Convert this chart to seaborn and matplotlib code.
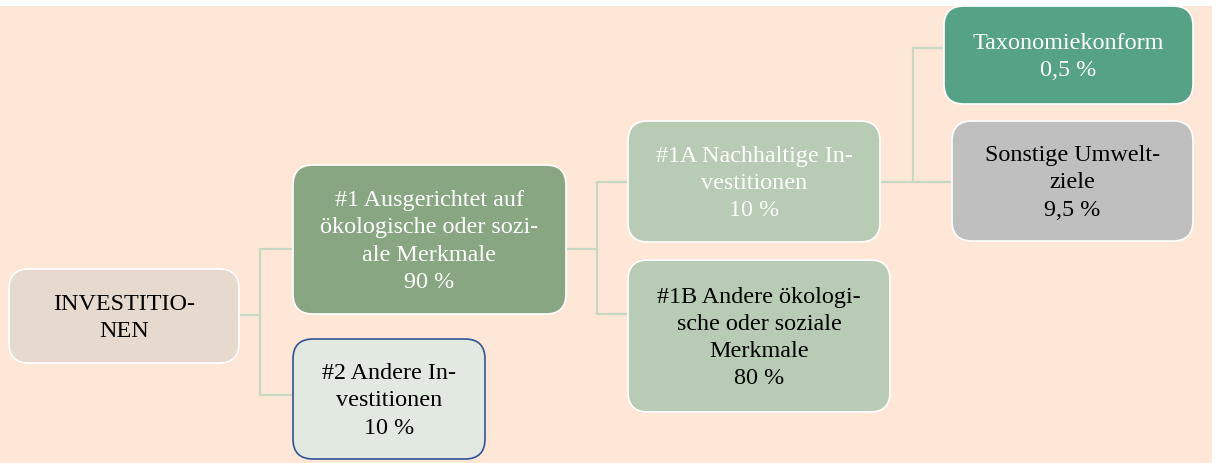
import matplotlib
matplotlib.use("Agg")
import matplotlib.pyplot as plt
from matplotlib.patches import FancyBboxPatch, Rectangle
import seaborn as sns

# ---------------------- Data ---------------------- #

node_ids = ["root", "n1", "n2", "n1a", "n1b", "tax", "other"]
node_titles = [
    "INVESTITIO-\nNEN",
    "#1 Ausgerichtet auf\nökologische oder sozi-\nale Merkmale",
    "#2 Andere In-\nvestitionen",
    "#1A Nachhaltige In-\nvestitionen",
    "#1B Andere ökologi-\nsche oder soziale\nMerkmale",
    "Taxonomiekonform",
    "Sonstige Umwelt-\nziele",
]
node_shares = [None, "90 %", "10 %", "10 %", "80 %", "0,5 %", "9,5 %"]
edges = [("root", "n1"), ("root", "n2"), ("n1", "n1a"), ("n1", "n1b"),
         ("n1a", "tax"), ("n1a", "other")]

# ---------------------- Layout (pixels) ---------------------- #

boxes = {
    "root": (9, 270, 239, 364),
    "n1": (293, 166, 566, 315),
    "n2": (293, 340, 485, 460),
    "n1a": (628, 122, 880, 243),
    "n1b": (628, 261, 890, 413),
    "tax": (944, 7, 1193, 105),
    "other": (952, 122, 1193, 242),
}
styles = {
    "root": ("#E6D9CD", "white", "black"),
    "n1": ("#88A682", "white", "white"),
    "n2": ("#E1E9E0", "#2F5597", "black"),
    "n1a": ("#B8CBB4", "white", "white"),
    "n1b": ("#B8CBB4", "white", "black"),
    "tax": ("#56A286", "white", "white"),
    "other": ("#BFBFBF", "white", "black"),
}
# connector anchor y on the parent and x of the vertical bus
bus = {"root": (316, 260), "n1": (250, 597), "n1a": (183, 913)}
child_y = {"n1": 250, "n2": 396, "n1a": 183, "n1b": 315, "tax": 49, "other": 183}

line_color = "#C9D8C3"
bg_color = "#FEE7D7"

# ---------------------- Drawing ---------------------- #

sns.set_theme(style="white")
plt.rcParams["font.family"] = ["Liberation Serif", "DejaVu Serif"]

fig = plt.figure(figsize=(12.16, 4.64), dpi=100, facecolor=bg_color)
ax = fig.add_axes([0, 0, 1, 1])
ax.set_xlim(0, 1216)
ax.set_ylim(464, 0)
ax.axis("off")

# white margin at the top and right edge
ax.add_patch(Rectangle((-5, -5), 1230, 12, facecolor="white", edgecolor="none",
                       zorder=0, clip_on=False))
ax.add_patch(Rectangle((1212, -5), 20, 480, facecolor="white", edgecolor="none",
                       zorder=0, clip_on=False))

# connectors
for parent in bus:
    py, bx = bus[parent]
    x1 = boxes[parent][2]
    kids = [c for p, c in edges if p == parent]
    ys = [child_y[c] for c in kids]
    ax.plot([x1 - 10, bx], [py, py], color=line_color, lw=1.6, zorder=1)
    ax.plot([bx, bx], [min(ys + [py]), max(ys + [py])], color=line_color, lw=1.6, zorder=1)
    for c, y in zip(kids, ys):
        ax.plot([bx, boxes[c][0] + 2], [y, y], color=line_color, lw=1.6, zorder=1)

# nodes
for nid, title, share in zip(node_ids, node_titles, node_shares):
    x0, y0, x1, y1 = boxes[nid]
    face, edge, txt = styles[nid]
    ax.add_patch(FancyBboxPatch((x0, y0), x1 - x0, y1 - y0,
                                boxstyle="round,pad=0,rounding_size=20",
                                facecolor=face, edgecolor=edge, lw=1.2, zorder=2))
    label = title if share is None else title + "\n" + share
    ax.text((x0 + x1) / 2, (y0 + y1) / 2 + 1, label, ha="center", va="center",
            fontsize=17.4, color=txt, linespacing=1.38, zorder=3)

fig.savefig("out.png", dpi=100, facecolor=bg_color)
